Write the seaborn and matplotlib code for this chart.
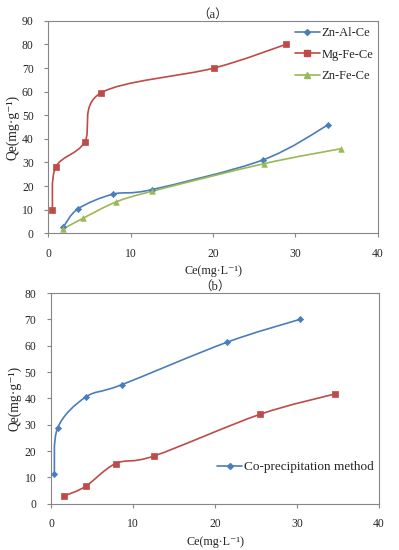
import numpy as np
import matplotlib
matplotlib.use('Agg')
import matplotlib.pyplot as plt
import seaborn as sns
from matplotlib.path import Path
from matplotlib.patches import PathPatch
from matplotlib.lines import Line2D

# panel (a)
znal_ce = [1.8, 3.6, 7.8, 12.6, 26.0, 34.0]
znal_qe = [2.5, 10.3, 16.5, 18.5, 31.0, 46.0]
mgfe_ce = [0.5, 0.9, 4.4, 6.4, 20.1, 28.8]
mgfe_qe = [9.8, 28.0, 38.5, 59.5, 70.0, 80.0]
znfe_ce = [1.8, 4.2, 8.2, 12.6, 26.2, 35.5]
znfe_qe = [1.8, 6.3, 13.2, 17.8, 29.5, 35.8]

# panel (b)
cop_ce = [0.4, 0.8, 4.2, 8.6, 21.4, 30.3]
cop_qe = [11.5, 28.8, 40.5, 45.2, 61.3, 70.0]
red_ce = [1.6, 4.2, 7.9, 12.6, 25.5, 34.6]
red_qe = [3.0, 6.6, 15.3, 18.2, 34.0, 41.7]

BLUE = '#4a7ebb'
RED = '#be4b48'
GREEN = '#98b954'
GRID = '#868686'
FONT = ['Liberation Serif', 'DejaVu Serif', 'Noto Sans CJK SC']

sns.set_style('white')
plt.rcParams['font.family'] = FONT


def smooth_path(x, y):
    """Excel-like smoothed line: cubic Bezier segments (Catmull-Rom)."""
    p = np.column_stack([x, y]).astype(float)
    n = len(p)
    verts = [p[0]]
    codes = [Path.MOVETO]
    for i in range(n - 1):
        p0 = p[i - 1] if i > 0 else p[i]
        p3 = p[i + 2] if i + 2 < n else p[i + 1]
        c1 = p[i] + (p[i + 1] - p0) / 6.0
        c2 = p[i + 1] - (p3 - p[i]) / 6.0
        verts += [c1, c2, p[i + 1]]
        codes += [Path.CURVE4] * 3
    return Path(verts, codes)


def draw_series(ax, x, y, color, marker, ms):
    ax.add_patch(PathPatch(smooth_path(x, y), fill=False, edgecolor=color,
                           lw=1.2, transform=ax.transData, zorder=2))
    sns.scatterplot(x=x, y=y, ax=ax, color=color, marker=marker, s=ms,
                    edgecolor=color, linewidth=0.5, zorder=3, legend=False)


def style_axes(ax, ymax, title):
    ax.set_xlim(0, 40)
    ax.set_ylim(0, ymax)
    ax.set_xticks(range(0, 41, 10))
    ax.set_yticks(range(0, ymax + 1, 10))
    for s in ax.spines.values():
        s.set_color(GRID)
        s.set_linewidth(0.8)
    ax.tick_params(axis='both', which='both', direction='out', length=3,
                   width=0.8, color=GRID, labelsize=8.4, pad=7.5,
                   bottom=True, left=True)
    ax.set_xlabel('Ce(mg·L⁻¹)', fontsize=8.7, labelpad=4)
    ax.set_ylabel('Qe(mg·g⁻¹)', fontsize=9.8, labelpad=2)
    ax.set_title(title, fontsize=9, pad=0)


fig = plt.figure(figsize=(3.99, 5.5), dpi=100)
ax1 = fig.add_axes([0.121, 0.576, 0.826, 0.386])
ax2 = fig.add_axes([0.128, 0.084, 0.822, 0.383])

draw_series(ax1, znal_ce, znal_qe, BLUE, 'D', 10)
draw_series(ax1, mgfe_ce, mgfe_qe, RED, 's', 18)
draw_series(ax1, znfe_ce, znfe_qe, GREEN, '^', 16)
style_axes(ax1, 90, '（a）')

handles = [Line2D([], [], color=BLUE, marker='D', ms=3, lw=1.2),
           Line2D([], [], color=RED, marker='s', ms=4, lw=1.2),
           Line2D([], [], color=GREEN, marker='^', ms=4, lw=1.2)]
ax1.legend(handles, ['Zn-Al-Ce', 'Mg-Fe-Ce', 'Zn-Fe-Ce'],
           loc='upper left', bbox_to_anchor=(0.74, 0.982),
           fontsize=9, frameon=False, handlelength=2.0, handletextpad=0.15,
           labelspacing=0.75, borderpad=0.2, borderaxespad=0.0)

draw_series(ax2, cop_ce, cop_qe, BLUE, 'D', 10)
draw_series(ax2, red_ce, red_qe, RED, 's', 18)
style_axes(ax2, 80, '（b）')

ax2.legend([Line2D([], [], color=BLUE, marker='D', ms=3, lw=1.2)],
           ['Co-precipitation method'], loc='upper left',
           bbox_to_anchor=(0.49, 0.228), fontsize=9.5, frameon=False,
           handlelength=1.9, handletextpad=0.15, borderaxespad=0.0)

fig.savefig('out.png', dpi=100)
